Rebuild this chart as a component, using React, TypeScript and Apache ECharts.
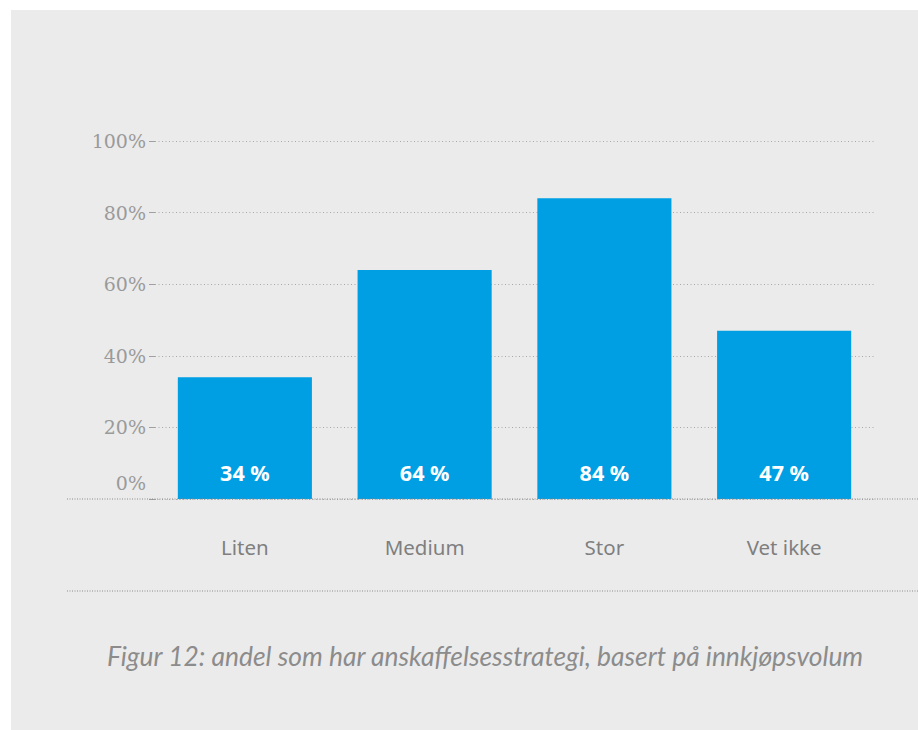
import React, { useEffect, useRef } from "react";
import * as echarts from "echarts";

const categories = ["Liten", "Medium", "Stor", "Vet ikke"];
const values = [34, 64, 84, 47];
const yTicks = [0, 20, 40, 60, 80, 100];
const caption = "Figur 12: andel som har anskaffelsesstrategi, basert på innkjøpsvolum";

export default function App() {
  const ref = useRef<HTMLDivElement>(null);
  useEffect(() => {
    if (!ref.current) return;
    const chart = echarts.init(ref.current, undefined, { renderer: "svg" });
    chart.setOption({
      animation: false,
      backgroundColor: "#ebebeb",
      grid: { left: 144, right: 44, top: 131, bottom: 231, containLabel: false },
      xAxis: {
        type: "category",
        data: categories,
        axisLine: { show: false },
        axisTick: { show: false },
        axisLabel: {
          margin: 37,
          color: "#7f7f7f",
          fontFamily: "Noto Sans",
          fontSize: 20.5,
        },
      },
      yAxis: {
        type: "value",
        min: yTicks[0],
        max: yTicks[yTicks.length - 1],
        interval: 20,
        axisLine: { show: false },
        axisTick: { show: true, length: 6, lineStyle: { color: "#a0a0a0", width: 1 } },
        axisLabel: {
          margin: 9,
          color: "#9a9a9a",
          fontFamily: "DejaVu Serif",
          fontSize: 19,
          formatter: (v: number) => (v === 0 ? "{z|0%}" : v + "%"),
          rich: {
            z: {
              color: "#9a9a9a",
              fontFamily: "DejaVu Serif",
              fontSize: 19,
              padding: [0, 0, 32, 0],
            },
          },
        },
        splitLine: {
          show: true,
          lineStyle: { color: "#a8a8a8", type: [1, 2.5], width: 1 },
        },
      },
      series: [
        {
          type: "bar",
          data: values,
          barWidth: "74.6%",
          itemStyle: { color: "#009fe3" },
          label: {
            show: true,
            position: "insideBottom",
            distance: 16,
            color: "#ffffff",
            fontFamily: "Noto Sans",
            fontWeight: "bold",
            fontSize: 21.5,
            formatter: (p: any) => p.value + " %",
          },
        },
      ],
      graphic: [
        {
          type: "line",
          shape: { x1: 56, y1: 489, x2: 907, y2: 489 },
          style: { stroke: "#8a8a8a", lineWidth: 1, lineDash: [1, 1.5] },
          z: 10,
        },
        {
          type: "line",
          shape: { x1: 56, y1: 581, x2: 907, y2: 581 },
          style: { stroke: "#8a8a8a", lineWidth: 1, lineDash: [1, 1.5] },
          z: 10,
        },
        {
          type: "text",
          x: 474,
          y: 646,
          style: {
            text: caption,
            fill: "#8c8c8c",
            font: "italic 26.4px Lato",
            align: "center",
            verticalAlign: "middle",
          },
        },
      ],
    });
    return () => chart.dispose();
  }, []);
  return (
    <div style={{ position: "fixed", left: 0, top: 0, width: 918, height: 730, background: "#ffffff" }}>
      <div ref={ref} style={{ position: "absolute", left: 11, top: 10, width: 907, height: 720 }} />
    </div>
  );
}
